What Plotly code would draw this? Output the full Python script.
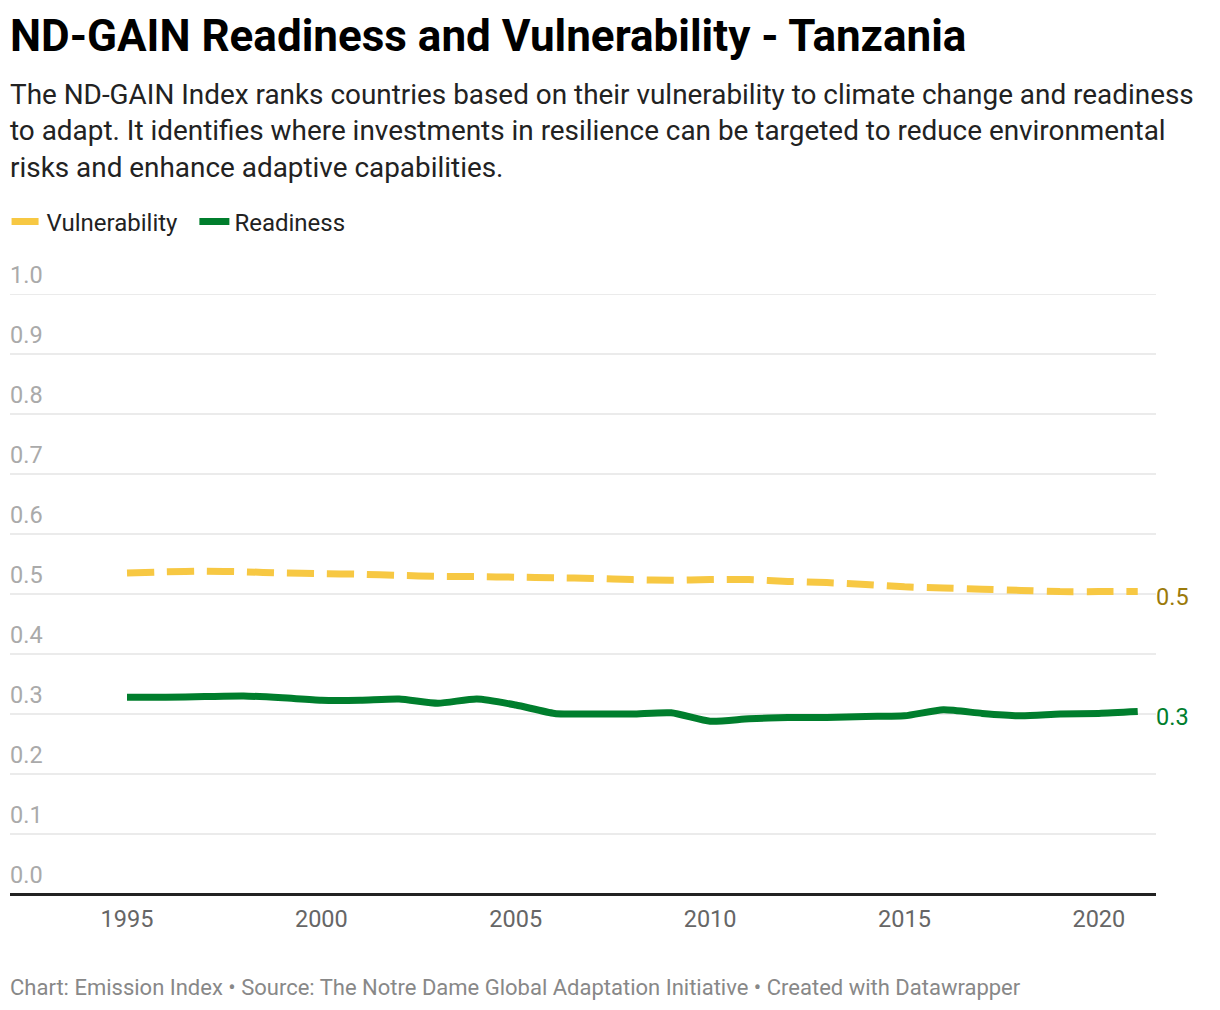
import plotly.graph_objects as go

# ND-GAIN scores for Tanzania
years = list(range(1995, 2022))
vulnerability = [0.535, 0.537, 0.538, 0.537, 0.535, 0.534, 0.533, 0.531, 0.5295, 0.529,
                 0.528, 0.527, 0.526, 0.524, 0.523, 0.524, 0.524, 0.521, 0.519, 0.516,
                 0.512, 0.510, 0.508, 0.506, 0.504, 0.504, 0.504]
readiness = [0.328, 0.328, 0.329, 0.330, 0.327, 0.323, 0.323, 0.325, 0.318, 0.325,
             0.315, 0.301, 0.300, 0.300, 0.302, 0.288, 0.292, 0.294, 0.294, 0.296,
             0.297, 0.307, 0.301, 0.297, 0.300, 0.301, 0.304]
y_ticks = [0.0, 0.1, 0.2, 0.3, 0.4, 0.5, 0.6, 0.7, 0.8, 0.9, 1.0]
x_ticks = [1995, 2000, 2005, 2010, 2015, 2020]

VULN_COLOR = "#F7C843"
READY_COLOR = "#007E2D"
FONT = "Roboto"

# the page adds an 8px body margin, so the figure is sized to fit inside the window
W, H = 1212, 1002
M_L, M_R, M_T, M_B = 2, 64, 286, 116
plot_h = H - M_T - M_B


def py(fig_y):
    # figure pixel (from top) -> paper coordinate
    return (H - M_B - fig_y) / plot_h


fig = go.Figure()

# trailing non-breaking spaces widen the gap between legend entries
fig.add_trace(go.Scatter(
    x=years, y=vulnerability, name="Vulnerability\u00a0\u00a0", mode="lines",
    line=dict(color=VULN_COLOR, width=7, dash="27px,13px", shape="spline", smoothing=0.6),
    hoverinfo="x+y",
))
fig.add_trace(go.Scatter(
    x=years, y=readiness, name="Readiness", mode="lines",
    line=dict(color=READY_COLOR, width=7, shape="spline", smoothing=0.6),
    hoverinfo="x+y",
))

annotations = []
shapes = []

# gridlines + y tick labels sitting just above them (Datawrapper style)
for t in y_ticks:
    if t > 0:
        shapes.append(dict(
            type="line", xref="paper", x0=0, x1=1, yref="y", y0=t, y1=t,
            line=dict(color="#e5e5e5", width=1.6), layer="below",
        ))
    annotations.append(dict(
        x=0, xref="paper", y=t, yref="y", text=f"{t:.1f}", showarrow=False,
        xanchor="left", yanchor="bottom", yshift=3, xshift=-2,
        font=dict(family=FONT, size=23.5, color="#aaaaaa"),
    ))

# end-of-line value labels
annotations.append(dict(
    x=years[-1], y=vulnerability[-1], xref="x", yref="y", text=f"{vulnerability[-1]:.1f}",
    showarrow=False, xanchor="left", yanchor="middle", xshift=16, yshift=-5,
    font=dict(family=FONT, size=23.5, color="#9B7A0B"),
))
annotations.append(dict(
    x=years[-1], y=readiness[-1], xref="x", yref="y", text=f"{readiness[-1]:.1f}",
    showarrow=False, xanchor="left", yanchor="middle", xshift=16, yshift=-5,
    font=dict(family=FONT, size=23.5, color=READY_COLOR),
))

# title, description, footer
annotations.append(dict(
    x=0, xref="paper", y=py(28), yref="paper", xshift=-2,
    text="<b>ND-GAIN Readiness and Vulnerability - Tanzania</b>",
    showarrow=False, xanchor="left", yanchor="middle",
    font=dict(family=FONT, size=44, color="#000000"),
))
subtitle = ("The ND-GAIN Index ranks countries based on their vulnerability to climate change and readiness<br>"
            "to adapt. It identifies where investments in resilience can be targeted to reduce environmental<br>"
            "risks and enhance adaptive capabilities.")
annotations.append(dict(
    x=0, xref="paper", y=py(123), yref="paper", text=subtitle, showarrow=False, xshift=-2,
    xanchor="left", yanchor="middle", align="left",
    font=dict(family=FONT, size=27.9, color="#222222"),
))
annotations.append(dict(
    x=0, xref="paper", y=py(979), yref="paper", xshift=-2,
    text="Chart: Emission Index \u2022 Source: The Notre Dame Global Adaptation Initiative \u2022 Created with Datawrapper",
    showarrow=False, xanchor="left", yanchor="middle",
    font=dict(family=FONT, size=22, color="#888888"),
))

fig.update_layout(
    width=W, height=H,
    margin=dict(l=M_L, r=M_R, t=M_T, b=M_B, autoexpand=False),
    paper_bgcolor="white", plot_bgcolor="white",
    font=dict(family=FONT),
    showlegend=True,
    legend=dict(
        orientation="h", x=-0.003, xanchor="left", y=py(214), yanchor="middle",
        font=dict(family=FONT, size=24, color="#222222"),
        itemwidth=30, traceorder="normal",
    ),
    xaxis=dict(
        range=[1991.99, 2021.47], tickvals=x_ticks, showgrid=False, zeroline=False,
        ticks="", tickfont=dict(family=FONT, size=23.5, color="#666666"),
        showline=False, fixedrange=True, ticklabelstandoff=8,
    ),
    yaxis=dict(
        range=[0, 1], tickvals=y_ticks, showticklabels=False, showgrid=False,
        zeroline=True, zerolinecolor="#222222", zerolinewidth=2.5, fixedrange=True,
    ),
    annotations=annotations,
    shapes=shapes,
)

fig.write_html("out.html")
